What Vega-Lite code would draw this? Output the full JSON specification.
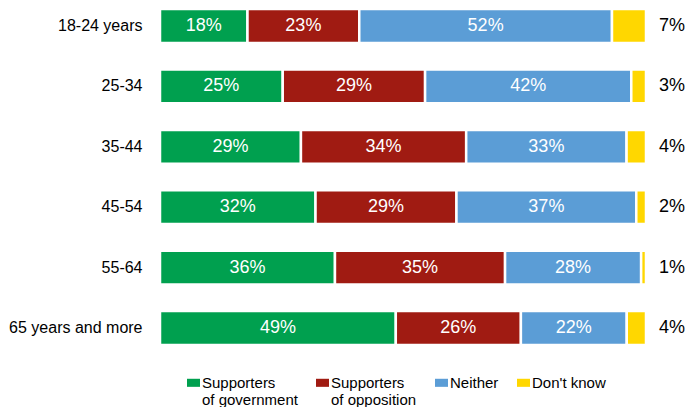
{
  "$schema": "https://vega.github.io/schema/vega-lite/v6.json",
  "autosize": {"type": "none"},
  "width": 486,
  "height": 354,
  "padding": {"left": 160, "top": 0, "right": 42, "bottom": 53},
  "background": "white",
  "config": {"view": {"stroke": null}, "font": "Liberation Sans"},
  "data": {"values": [
    {"age": "18-24 years", "group": "Supporters of government", "k": 1, "value": 0.18},
    {"age": "18-24 years", "group": "Supporters of opposition", "k": 2, "value": 0.23},
    {"age": "18-24 years", "group": "Neither", "k": 3, "value": 0.52},
    {"age": "18-24 years", "group": "Don't know", "k": 4, "value": 0.07},
    {"age": "25-34", "group": "Supporters of government", "k": 1, "value": 0.25},
    {"age": "25-34", "group": "Supporters of opposition", "k": 2, "value": 0.29},
    {"age": "25-34", "group": "Neither", "k": 3, "value": 0.42},
    {"age": "25-34", "group": "Don't know", "k": 4, "value": 0.03},
    {"age": "35-44", "group": "Supporters of government", "k": 1, "value": 0.29},
    {"age": "35-44", "group": "Supporters of opposition", "k": 2, "value": 0.34},
    {"age": "35-44", "group": "Neither", "k": 3, "value": 0.33},
    {"age": "35-44", "group": "Don't know", "k": 4, "value": 0.04},
    {"age": "45-54", "group": "Supporters of government", "k": 1, "value": 0.32},
    {"age": "45-54", "group": "Supporters of opposition", "k": 2, "value": 0.29},
    {"age": "45-54", "group": "Neither", "k": 3, "value": 0.37},
    {"age": "45-54", "group": "Don't know", "k": 4, "value": 0.02},
    {"age": "55-64", "group": "Supporters of government", "k": 1, "value": 0.36},
    {"age": "55-64", "group": "Supporters of opposition", "k": 2, "value": 0.35},
    {"age": "55-64", "group": "Neither", "k": 3, "value": 0.28},
    {"age": "55-64", "group": "Don't know", "k": 4, "value": 0.01},
    {"age": "65 years and more", "group": "Supporters of government", "k": 1, "value": 0.49},
    {"age": "65 years and more", "group": "Supporters of opposition", "k": 2, "value": 0.26},
    {"age": "65 years and more", "group": "Neither", "k": 3, "value": 0.22},
    {"age": "65 years and more", "group": "Don't know", "k": 4, "value": 0.04}
  ]},
  "transform": [
    {"stack": "value", "groupby": ["age"], "sort": [{"field": "k"}], "offset": "normalize", "as": ["s0", "s1"]}
  ],
  "encoding": {
    "y": {
      "field": "age", "type": "nominal",
      "sort": ["18-24 years", "25-34", "35-44", "45-54", "55-64", "65 years and more"],
      "scale": {"paddingInner": 0.44, "paddingOuter": 0.15},
      "axis": {"title": null, "ticks": false, "domain": false, "grid": false, "labelPadding": 18, "labelFontSize": 16, "labelColor": "#000000", "labelFont": "Liberation Sans"}
    }
  },
  "layer": [
    {
      "mark": {"type": "bar", "stroke": "white", "strokeWidth": 2.5},
      "encoding": {
        "x": {"field": "s0", "type": "quantitative", "scale": {"domain": [0, 1], "nice": false}, "axis": null},
        "x2": {"field": "s1"},
        "color": {
          "field": "group", "type": "nominal",
          "scale": {
            "domain": ["Supporters of government", "Supporters of opposition", "Neither", "Don't know"],
            "range": ["#00A04F", "#A01B12", "#5B9DD6", "#FFD700"]
          },
          "legend": {
            "title": null, "orient": "none", "direction": "horizontal",
            "legendX": 26, "legendY": 380,
            "symbolType": "M-1,-1.38L1,-1.38L1,-0.14L-1,-0.14Z",
            "symbolSize": 169, "symbolStrokeWidth": 0,
            "labelFontSize": 15, "labelColor": "#000000", "labelFont": "Liberation Sans",
            "labelOffset": 1, "columnPadding": 17, "labelBaseline": "alphabetic",
            "labelExpr": "datum.label === 'Supporters of government' ? ['Supporters', 'of government'] : datum.label === 'Supporters of opposition' ? ['Supporters', 'of opposition'] : [datum.label, ' ']"
          }
        },
        "order": {"field": "k"}
      }
    },
    {
      "transform": [{"filter": "datum.k < 4"}, {"calculate": "(datum.s0 + datum.s1) / 2", "as": "mid"}],
      "mark": {"type": "text", "color": "white", "fontSize": 18, "baseline": "middle", "align": "center"},
      "encoding": {
        "x": {"field": "mid", "type": "quantitative"},
        "text": {"field": "value", "type": "quantitative", "format": ".0%"}
      }
    },
    {
      "transform": [{"filter": "datum.k == 4"}],
      "mark": {"type": "text", "color": "black", "fontSize": 18, "baseline": "middle", "align": "left", "dx": 13},
      "encoding": {
        "x": {"field": "s1", "type": "quantitative"},
        "text": {"field": "value", "type": "quantitative", "format": ".0%"}
      }
    }
  ]
}
